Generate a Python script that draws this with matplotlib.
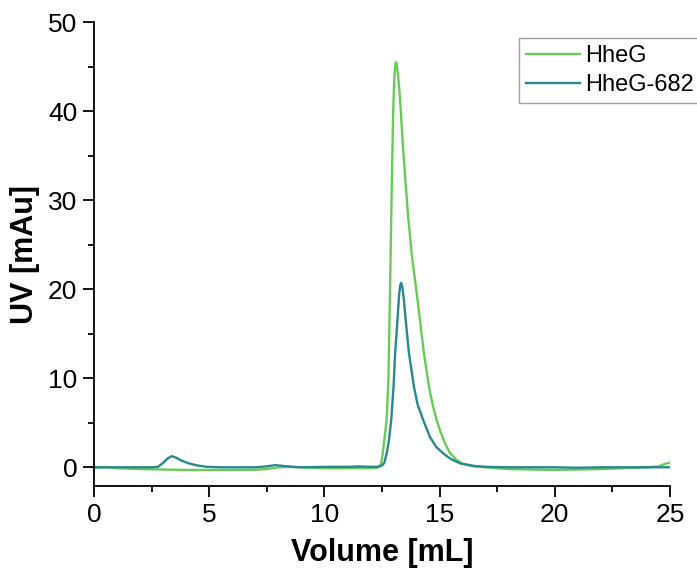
import matplotlib
matplotlib.use("Agg")
import matplotlib.pyplot as plt
from matplotlib.ticker import MultipleLocator

plt.rcParams['font.family'] = ['Liberation Sans', 'DejaVu Sans']

# HheG (green)
hheg_x = [0, 0.5, 1, 2, 3, 4, 5, 6, 7, 7.5, 8, 8.5, 9, 10, 11, 12, 12.3, 12.45,
          12.53, 12.62, 12.70, 12.78, 12.85, 12.92, 12.98, 13.03, 13.07, 13.1, 13.13,
          13.17, 13.21, 13.25, 13.32, 13.42, 13.53, 13.64, 13.8, 13.97, 14.15, 14.32,
          14.54, 14.7, 14.87, 15.05, 15.25, 15.45, 15.7, 16.0, 16.5, 17, 18, 19, 20,
          21, 22, 23, 24, 24.5, 24.8, 25]
hheg_y = [0, 0, -0.1, -0.2, -0.25, -0.3, -0.3, -0.3, -0.28, -0.2, 0, 0.05, 0, -0.1,
          -0.1, -0.1, -0.05, 0.3,
          1.5, 3.5, 5.3, 10, 20, 31, 39.5, 43.5, 45.0, 45.5, 45.4,
          44.6, 43.6, 42.5, 39.8, 35.6, 31.7, 28.0, 23.7, 20.3, 16.5, 12.8,
          9.0, 7.0, 5.3, 3.9, 2.6, 1.6, 0.9, 0.4, 0.1, 0, -0.2, -0.25, -0.3,
          -0.25, -0.2, -0.1, 0, 0.1, 0.4, 0.5]

# HheG-682 (teal)
hheg682_x = [0, 0.5, 1, 2, 2.5, 2.78, 3.0, 3.2, 3.37, 3.55, 3.8, 4.1, 4.5, 4.9, 5.5,
             6, 7, 7.5, 7.86, 8.2, 8.6, 9, 10, 11, 11.5, 12, 12.3, 12.5, 12.6, 12.7,
             12.8, 12.9, 13.0, 13.07, 13.17, 13.24, 13.29, 13.33, 13.38, 13.45, 13.53,
             13.67, 13.89, 14.05, 14.29, 14.58, 14.85, 15.16, 15.5, 15.9, 16.5, 17, 18,
             19, 20, 21, 22, 23, 24, 25]
hheg682_y = [0, 0, 0, 0, 0, 0.05, 0.5, 1.0, 1.25, 1.1, 0.75, 0.45, 0.2, 0.05, 0,
             0, 0, 0.1, 0.25, 0.15, 0.05, 0, 0.05, 0.05, 0.1, 0.05, 0.05, 0.2, 0.5, 1.55,
             3.0, 5.3, 9.0, 12.8, 16.5, 19.3, 20.4, 20.7, 20.3, 18.8, 16.5,
             12.8, 9.0, 7.0, 5.3, 3.4, 2.3, 1.55, 0.9, 0.43, 0.15, 0.05, 0,
             0, 0, -0.05, 0, 0, 0, 0]

series_labels = ["HheG", "HheG-682"]
colors = ["#66cc55", "#2a8890"]

fig = plt.figure(figsize=(6.97, 5.77), dpi=100)
ax = fig.add_axes([94/697, 91/577, (670-94)/697, (486-22)/577])

ax.plot(hheg_x, hheg_y, color=colors[0], lw=1.7, label=series_labels[0])
ax.plot(hheg682_x, hheg682_y, color=colors[1], lw=1.7, label=series_labels[1])

ax.set_xlim(0, 25)
ax.set_ylim(-2.1, 50)
ax.xaxis.set_major_locator(MultipleLocator(5))
ax.xaxis.set_minor_locator(MultipleLocator(2.5))
ax.yaxis.set_major_locator(MultipleLocator(10))
ax.yaxis.set_minor_locator(MultipleLocator(5))

for s in ['top', 'right']:
    ax.spines[s].set_visible(False)
for s in ['left', 'bottom']:
    ax.spines[s].set_linewidth(1.3)

ax.tick_params(which='major', direction='out', length=8, width=1.3, labelsize=19, pad=4)
ax.tick_params(which='minor', direction='out', length=4, width=1.3)

ax.set_xlabel("Volume [mL]", fontsize=22, fontweight='bold', labelpad=8)
ax.set_ylabel("UV [mAu]", fontsize=22, fontweight='bold', labelpad=6)

leg = fig.legend(loc='upper left', bbox_to_anchor=(519/697, 1 - 38/577),
                 bbox_transform=fig.transFigure, fontsize=17, frameon=True,
                 fancybox=False, handlelength=2.3, handletextpad=0.2,
                 borderpad=0.3, labelspacing=0.3, borderaxespad=0)
leg.get_frame().set_edgecolor('#888888')
leg.get_frame().set_linewidth(1.0)

fig.savefig("out.png", dpi=100)
